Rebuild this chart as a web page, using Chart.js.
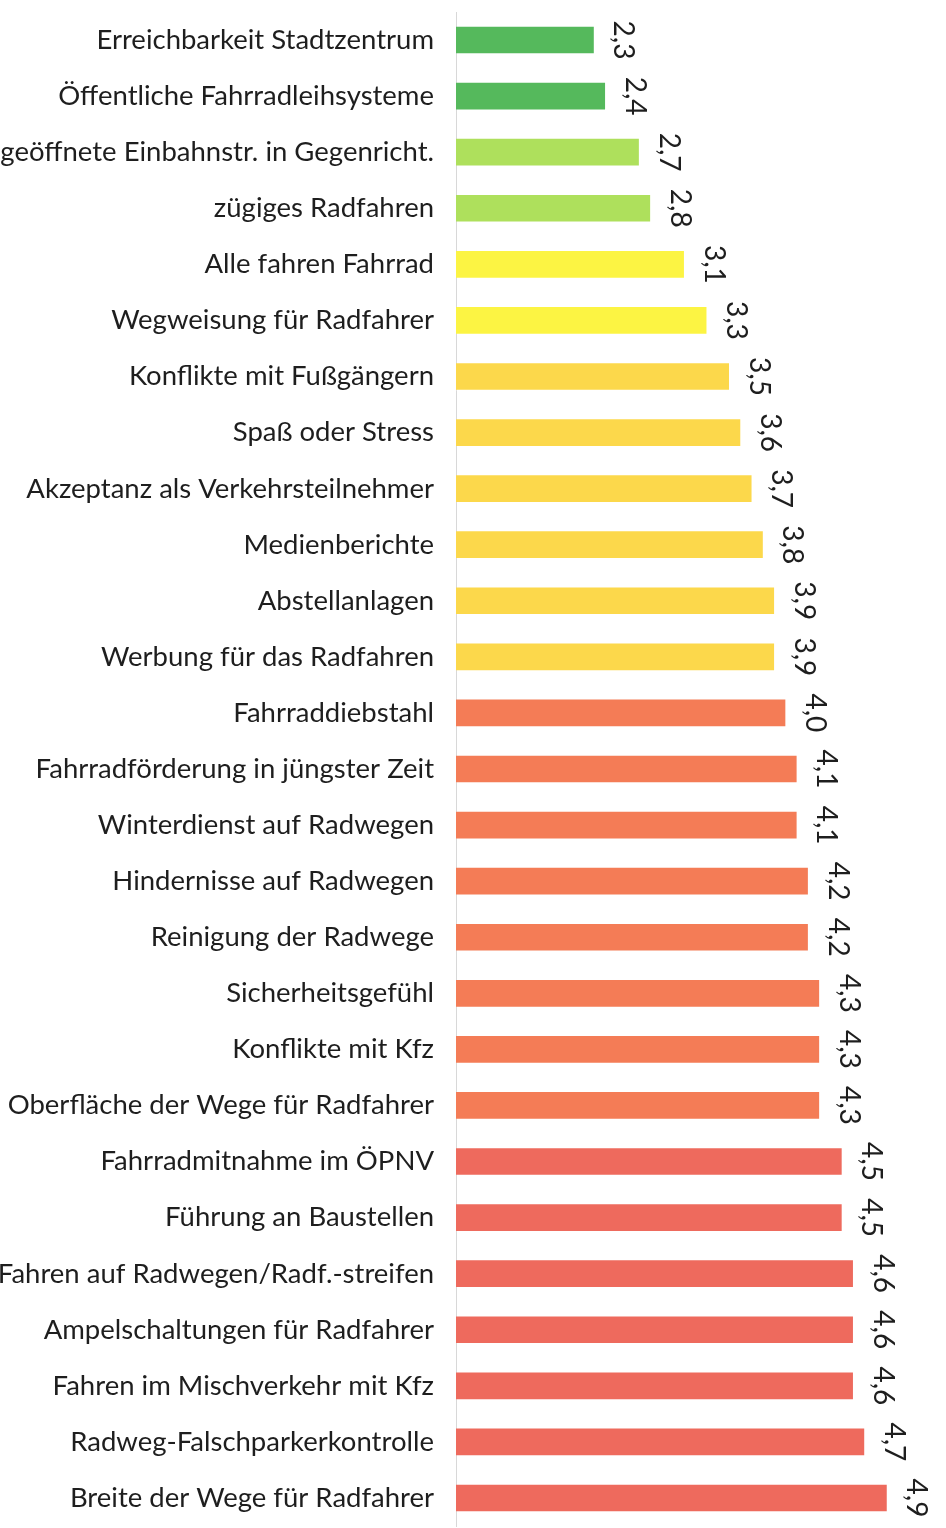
<!DOCTYPE html>
<html>
<head>
<meta charset="utf-8">
<script src="https://cdn.jsdelivr.net/npm/chart.js@4"></script>
<style>
  html, body { margin: 0; padding: 0; background: #fff; }
  #wrap { width: 946px; height: 1528px; position: relative; }
</style>
</head>
<body>
<div id="wrap"><canvas id="ratingChart"></canvas></div>
<script>
// Kategorien (von oben nach unten)
const categories = [
    'Erreichbarkeit Stadtzentrum',
    'Öffentliche Fahrradleihsysteme',
    'geöffnete Einbahnstr. in Gegenricht.',
    'zügiges Radfahren',
    'Alle fahren Fahrrad',
    'Wegweisung für Radfahrer',
    'Konflikte mit Fußgängern',
    'Spaß oder Stress',
    'Akzeptanz als Verkehrsteilnehmer',
    'Medienberichte',
    'Abstellanlagen',
    'Werbung für das Radfahren',
    'Fahrraddiebstahl',
    'Fahrradförderung in jüngster Zeit',
    'Winterdienst auf Radwegen',
    'Hindernisse auf Radwegen',
    'Reinigung der Radwege',
    'Sicherheitsgefühl',
    'Konflikte mit Kfz',
    'Oberfläche der Wege für Radfahrer',
    'Fahrradmitnahme im ÖPNV',
    'Führung an Baustellen',
    'Fahren auf Radwegen/Radf.-streifen',
    'Ampelschaltungen für Radfahrer',
    'Fahren im Mischverkehr mit Kfz',
    'Radweg-Falschparkerkontrolle',
    'Breite der Wege für Radfahrer'
];

// Schulnoten
const grades = [
    2.3, 2.4, 2.7, 2.8, 3.1, 3.3, 3.5, 3.6, 3.7, 3.8, 3.9, 3.9, 4.0, 4.1,
    4.1, 4.2, 4.2, 4.3, 4.3, 4.3, 4.5, 4.5, 4.6, 4.6, 4.6, 4.7, 4.9
];

// Farbgruppen
const green = '#55b95c';
const lightGreen = '#aee05c';
const yellow = '#fcf443';
const gold = '#fcd84b';
const orange = '#f47c56';
const red = '#ee6a5d';
const barColors = [
    green, green, lightGreen, lightGreen, yellow, yellow,
    gold, gold, gold, gold, gold, gold,
    orange, orange, orange, orange, orange, orange, orange, orange,
    red, red, red, red, red, red, red
];

const labelFont = '"Lato", "Open Sans", sans-serif';

// Werte gedreht neben die Balken schreiben
const valueLabels = {
    id: 'valueLabels',
    afterDatasetsDraw(chart) {
        const ctx = chart.ctx;
        const meta = chart.getDatasetMeta(0);
        ctx.save();
        ctx.fillStyle = '#1e1e1e';
        ctx.font = '28px ' + labelFont;
        ctx.textAlign = 'center';
        ctx.textBaseline = 'middle';
        meta.data.forEach(function(bar, i) {
            const txt = grades[i].toFixed(1).replace('.', ',');
            ctx.save();
            ctx.translate(bar.x + 30, bar.y);
            ctx.rotate(Math.PI / 2);
            ctx.fillText(txt, 0, 0);
            ctx.restore();
        });
        ctx.restore();
    }
};

document.addEventListener('DOMContentLoaded', function() {
    const ctx = document.getElementById('ratingChart').getContext('2d');
    new Chart(ctx, {
        type: 'bar',
        data: {
            labels: categories,
            datasets: [{
                data: grades,
                backgroundColor: barColors,
                borderWidth: 0,
                barThickness: 26
            }]
        },
        options: {
            indexAxis: 'y',
            responsive: true,
            maintainAspectRatio: false,
            animation: false,
            layout: { padding: { top: 12, bottom: 2, left: 0, right: 10 } },
            plugins: {
                legend: { display: false },
                tooltip: { enabled: false }
            },
            scales: {
                x: {
                    min: 1.08,
                    max: 5.34,
                    display: false
                },
                y: {
                    afterFit: function(scale) {
                        scale.width = 456;
                        scale.paddingTop = 0;
                        scale.paddingBottom = 0;
                    },
                    grid: { display: false, drawTicks: false },
                    border: { display: true, color: '#d8d8d8', width: 1 },
                    ticks: {
                        padding: 22,
                        color: '#1e1e1e',
                        font: { family: labelFont, size: 27.5 }
                    }
                }
            }
        },
        plugins: [valueLabels]
    });
});
</script>
</body>
</html>
